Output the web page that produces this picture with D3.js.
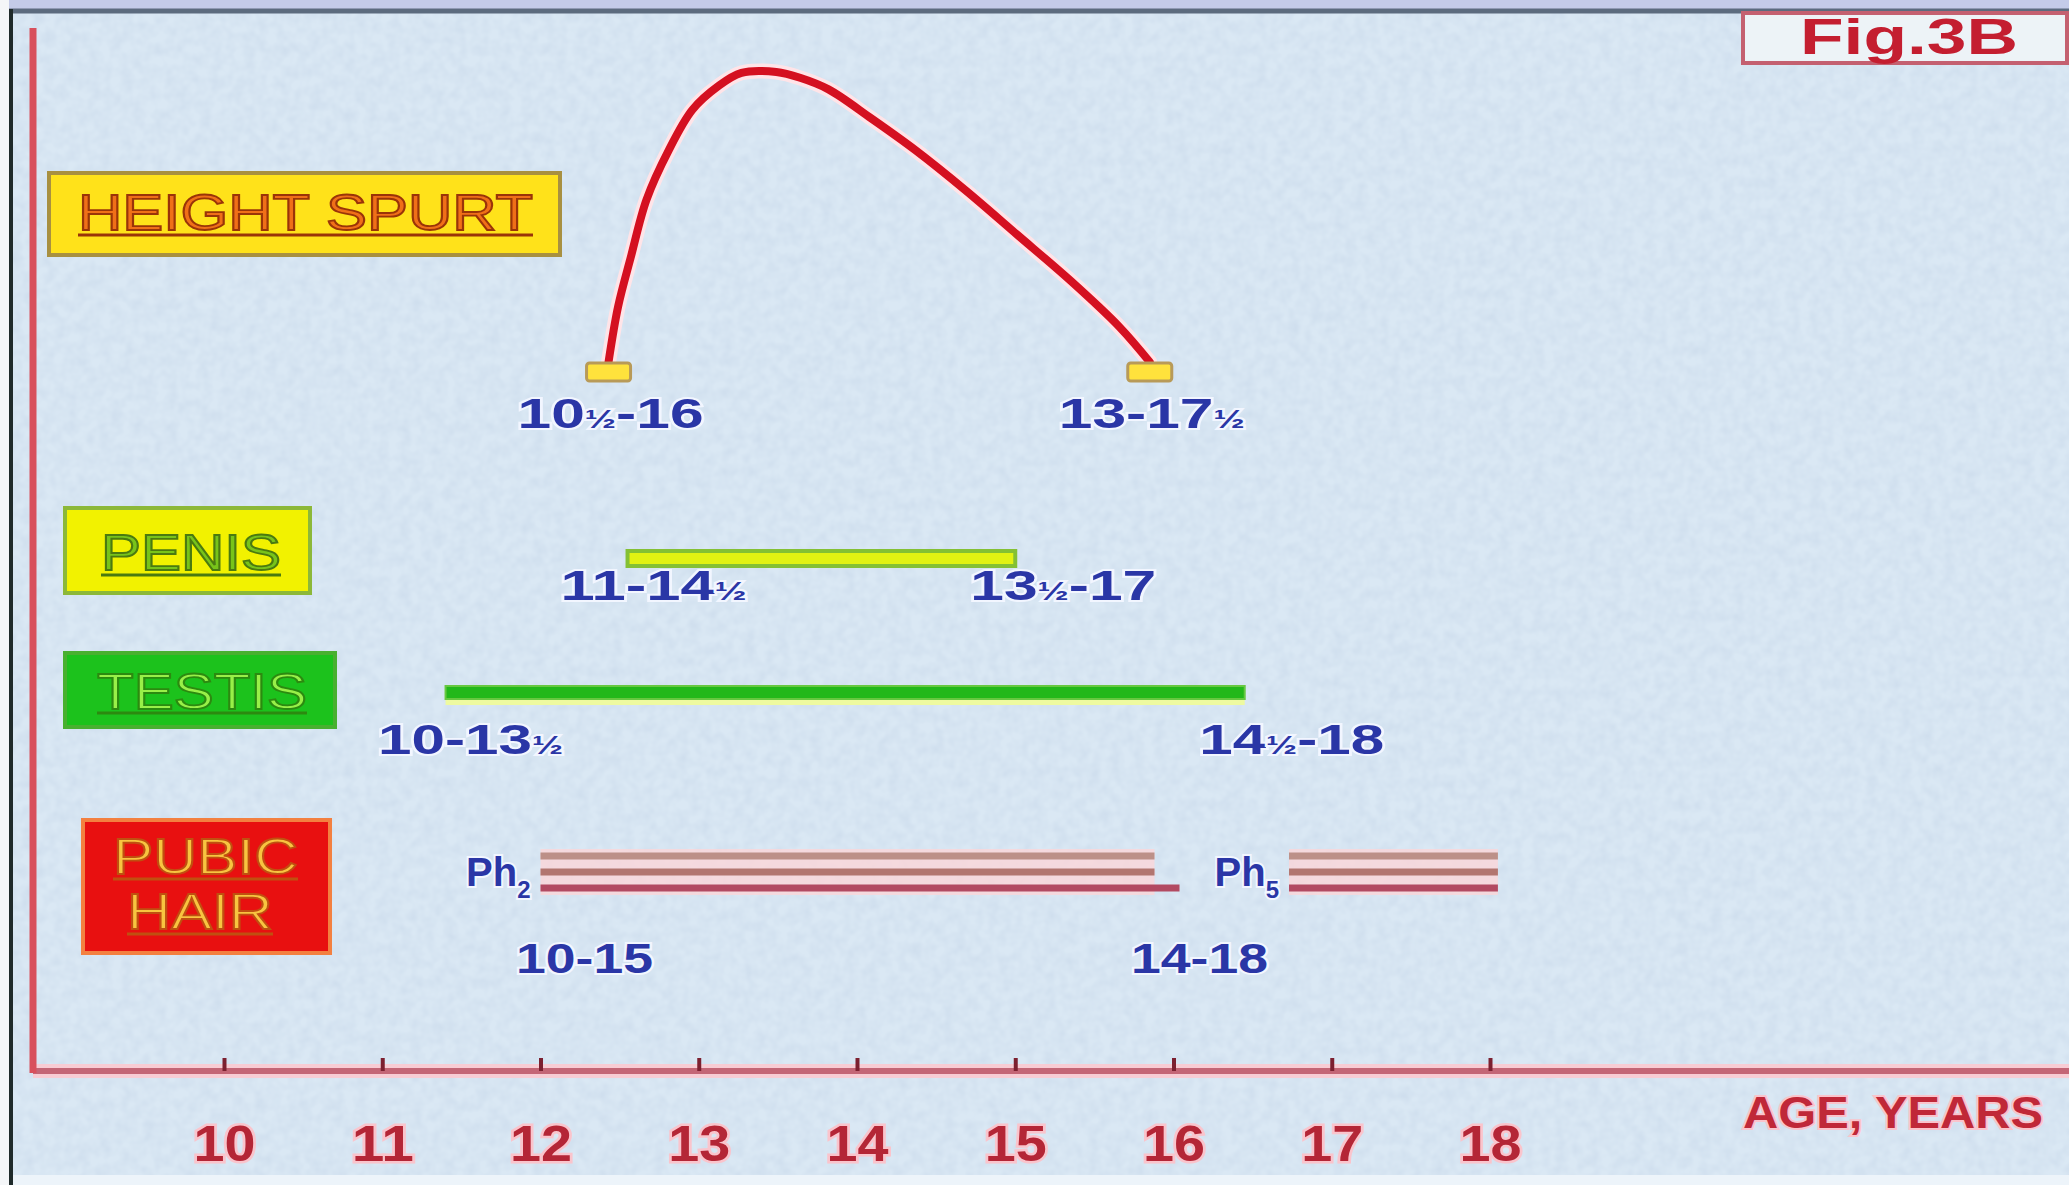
<!DOCTYPE html>
<html>
<head>
<meta charset="utf-8">
<script src="https://cdn.jsdelivr.net/npm/d3@7"></script>
<style>
  body { margin: 0; background: #dbe8f4; }
  text { font-family: "Liberation Sans", Arial, sans-serif; }
</style>
</head>
<body>
<script>
// chart data
const ages = [10, 11, 12, 13, 14, 15, 16, 17, 18];
const stages = ["HEIGHT SPURT", "PENIS", "TESTIS", "PUBIC HAIR"];

// height spurt curve (age, relative velocity)
const spurtAge = [12.43, 12.49, 12.57, 12.67, 12.81, 12.96, 13.12, 13.27, 13.49, 13.64, 13.82, 14.09, 14.37, 14.69, 15.01, 15.35, 15.66, 15.85];
const spurtVelocity = [0, 19, 36, 56, 73, 87, 95, 99.7, 100, 98, 94, 84, 73, 59, 44, 28, 12, 0];
const spurtRange = [12.43, 15.85];
const spurtLabels = ["10½-16", "13-17½"];

const penisRange = [12.55, 15.0];
const penisLabels = ["11-14½", "13½-17"];

const testisRange = [11.4, 16.45];
const testisLabels = ["10-13½", "14½-18"];

const pubicRanges = [[12.0, 15.88], [16.73, 18.05]];
const pubicStages = ["2", "5"];
const pubicLabels = ["10-15", "14-18"];

const W = 2069, H = 1185;

const svg = d3.select("body")
    .append("svg")
    .attr("width", W)
    .attr("height", H);

// background texture
const defs = svg.append("defs");
const grain = defs.append("filter").attr("id", "grain")
    .attr("x", 0).attr("y", 0).attr("width", "100%").attr("height", "100%");
grain.append("feTurbulence")
    .attr("type", "fractalNoise").attr("baseFrequency", 0.09)
    .attr("numOctaves", 2).attr("seed", 4);
grain.append("feColorMatrix").attr("type", "matrix")
    .attr("values", "0 0 0 0 0.55  0 0 0 0 0.66  0 0 0 0 0.80  0.8 0 0 0 -0.24");

svg.append("rect").attr("width", W).attr("height", H).attr("fill", "#dae8f4");
svg.append("rect").attr("width", W).attr("height", H).attr("filter", "url(#grain)");
svg.append("rect").attr("y", H - 10).attr("width", W).attr("height", 10).attr("fill", "#edf4fa");

// scales
const x = d3.scaleLinear().domain([10, 18]).range([224, 1490]);
const yV = d3.scaleLinear().domain([0, 100]).range([362, 72]);

// stage boxes
const boxStyle = {
    "HEIGHT SPURT": { x: 49, y: 173, w: 511, h: 82, fill: "#ffe21a", stroke: "#a89040", color: "#f07018", edge: "#9a3408",
        lines: [{ t: "HEIGHT SPURT", x0: 78, x1: 533, base: 230, u: 235 }] },
    "PENIS": { x: 65, y: 508, w: 245, h: 85, fill: "#f2f200", stroke: "#8cb838", color: "#78c41a", edge: "#4a7a10",
        lines: [{ t: "PENIS", x0: 101, x1: 281, base: 570, u: 575 }] },
    "TESTIS": { x: 65, y: 653, w: 270, h: 74, fill: "#1cc21c", stroke: "#48b030", color: "#98f048", edge: "#2c8a10",
        lines: [{ t: "TESTIS", x0: 97, x1: 307, base: 709, u: 713 }] },
    "PUBIC HAIR": { x: 83, y: 820, w: 247, h: 133, fill: "#e81010", stroke: "#f38040", color: "#f8c440", edge: "#c05010",
        lines: [{ t: "PUBIC", x0: 113, x1: 298, base: 874, u: 879 }, { t: "HAIR", x0: 127, x1: 273, base: 929, u: 934 }] }
};

stages.forEach(s => {
    const b = boxStyle[s];
    const g = svg.append("g");
    g.append("rect")
        .attr("x", b.x).attr("y", b.y).attr("width", b.w).attr("height", b.h)
        .attr("fill", b.fill).attr("stroke", b.stroke).attr("stroke-width", 4);
    b.lines.forEach(l => {
        g.append("text")
            .attr("x", l.x0).attr("y", l.base)
            .attr("textLength", l.x1 - l.x0).attr("lengthAdjust", "spacingAndGlyphs")
            .attr("font-size", 50)
            .attr("fill", b.color).attr("stroke", b.edge).attr("stroke-width", 1.8)
            .text(l.t);
        g.append("line")
            .attr("x1", l.x0).attr("x2", l.x1).attr("y1", l.u).attr("y2", l.u)
            .attr("stroke", b.edge).attr("stroke-width", 3);
    });
});

// labels with a small ½
function rangeText(str, cx, base, len, size) {
    const t = svg.append("text")
        .attr("x", cx).attr("y", base)
        .attr("text-anchor", "middle")
        .attr("textLength", len).attr("lengthAdjust", "spacingAndGlyphs")
        .attr("font-weight", "bold")
        .attr("fill", "#2a36a6")
        .attr("stroke", "#f2f6ff").attr("stroke-width", 4).attr("paint-order", "stroke");
    str.split(/(½)/).forEach(p => {
        if (!p) return;
        t.append("tspan").attr("font-size", p === "½" ? size * 0.62 : size).text(p);
    });
}

// height spurt curve
const line = d3.line()
    .x((d, i) => x(spurtAge[i]))
    .y(d => yV(d))
    .curve(d3.curveCatmullRom);

svg.append("path")
    .attr("d", line(spurtVelocity))
    .attr("fill", "none").attr("stroke", "#ffe4e8").attr("stroke-width", 15)
    .attr("stroke-linecap", "round");
svg.append("path")
    .attr("d", line(spurtVelocity))
    .attr("fill", "none").attr("stroke", "#d41020").attr("stroke-width", 8)
    .attr("stroke-linecap", "round");

svg.selectAll(".spurtEnd")
    .data(spurtRange)
    .join("rect")
    .attr("x", d => x(d) - 22).attr("y", yV(0) + 1)
    .attr("width", 44).attr("height", 18).attr("rx", 3)
    .attr("fill", "#ffe23c").attr("stroke", "#b89a58").attr("stroke-width", 3);

spurtRange.forEach((d, i) => rangeText(spurtLabels[i], x(d) + 2, 428, 186, 42));

// penis bar
svg.append("rect")
    .attr("x", x(penisRange[0])).attr("y", 551)
    .attr("width", x(penisRange[1]) - x(penisRange[0])).attr("height", 15)
    .attr("fill", "#e2f212").attr("stroke", "#84c034").attr("stroke-width", 4);
penisRange.forEach((d, i) => rangeText(penisLabels[i], x(d) + (i ? 48 : 26), 600, 186, 42));

// testis bar
svg.append("rect")
    .attr("x", x(testisRange[0])).attr("y", 697)
    .attr("width", x(testisRange[1]) - x(testisRange[0])).attr("height", 8)
    .attr("fill", "#eefaa0");
svg.append("rect")
    .attr("x", x(testisRange[0])).attr("y", 686)
    .attr("width", x(testisRange[1]) - x(testisRange[0])).attr("height", 13)
    .attr("fill", "#22b81a").attr("stroke", "#66c840").attr("stroke-width", 2);
testisRange.forEach((d, i) => rangeText(testisLabels[i], x(d) + (i ? 47 : 25), 754, 185, 42));

// pubic hair triple lines
const pubicY = [856, 872, 888];
const pubicColors = ["#bc9088", "#b27670", "#b24a62"];
pubicRanges.forEach((r, k) => {
    svg.append("rect")
        .attr("x", x(r[0])).attr("y", 849)
        .attr("width", x(r[1]) - x(r[0])).attr("height", 46)
        .attr("fill", "#fbd6d8").attr("opacity", 0.8);
    pubicY.forEach((py, j) => {
        svg.append("line")
            .attr("x1", x(r[0])).attr("x2", x(r[1]) + (j === 2 && k === 0 ? 25 : 0))
            .attr("y1", py).attr("y2", py)
            .attr("stroke", pubicColors[j]).attr("stroke-width", 7);
    });
    // Ph stage label
    const t = svg.append("text")
        .attr("x", x(r[0]) - 10).attr("y", 886)
        .attr("text-anchor", "end")
        .attr("font-weight", "bold").attr("fill", "#2a36a6")
        .attr("stroke", "#f2f6ff").attr("stroke-width", 4).attr("paint-order", "stroke");
    t.append("tspan").attr("font-size", 40).text("Ph");
    t.append("tspan").attr("font-size", 24).attr("dy", 12).text(pubicStages[k]);
});
rangeText(pubicLabels[0], x(pubicRanges[0][0]) + 44, 973, 137, 42);
rangeText(pubicLabels[1], x(pubicRanges[0][1]) + 45, 973, 137, 42);

// X axis
svg.append("line")
    .attr("x1", 33).attr("x2", W).attr("y1", 1071).attr("y2", 1071)
    .attr("stroke", "#f8ccd4").attr("stroke-width", 14);
svg.append("line")
    .attr("x1", 33).attr("x2", W).attr("y1", 1071).attr("y2", 1071)
    .attr("stroke", "#c46676").attr("stroke-width", 6);

const xAxis = svg.append("g")
    .attr("transform", "translate(0,1071)")
    .call(d3.axisBottom(x).tickValues(ages).tickSizeInner(-13).tickSizeOuter(0).tickPadding(54));
xAxis.select(".domain").remove();
xAxis.selectAll(".tick line").attr("stroke", "#7c2030").attr("stroke-width", 4);
xAxis.selectAll(".tick text")
    .attr("font-size", 50).attr("font-weight", "bold")
    .attr("font-family", "Liberation Sans, Arial, sans-serif")
    .attr("fill", "#b42636")
    .attr("stroke", "#fac4cc").attr("stroke-width", 5).attr("paint-order", "stroke")
    .attr("textLength", 62).attr("lengthAdjust", "spacingAndGlyphs");

svg.append("text")
    .attr("x", 1743).attr("y", 1128)
    .attr("textLength", 300).attr("lengthAdjust", "spacingAndGlyphs")
    .attr("font-size", 44).attr("font-weight", "bold")
    .attr("fill", "#c02838")
    .attr("stroke", "#fac4cc").attr("stroke-width", 4).attr("paint-order", "stroke")
    .text("AGE, YEARS");

// frame
svg.append("rect").attr("width", W).attr("height", 9).attr("fill", "#c4cbe8");
svg.append("line")
    .attr("x1", 0).attr("x2", W).attr("y1", 11).attr("y2", 11)
    .attr("stroke", "#5c6b7e").attr("stroke-width", 5);

// figure tag
svg.append("rect")
    .attr("x", 1743).attr("y", 13).attr("width", 324).attr("height", 50)
    .attr("fill", "#edf3f7").attr("stroke", "#c46070").attr("stroke-width", 4);
svg.append("text")
    .attr("x", 1800).attr("y", 54)
    .attr("textLength", 218).attr("lengthAdjust", "spacingAndGlyphs")
    .attr("font-size", 50).attr("font-weight", "bold")
    .attr("fill", "#c41e30")
    .text("Fig.3B");

svg.append("rect").attr("width", 9).attr("height", H).attr("fill", "#f4f6f8");
svg.append("line")
    .attr("x1", 11).attr("x2", 11).attr("y1", 9).attr("y2", H)
    .attr("stroke", "#1f2a2a").attr("stroke-width", 4);
svg.append("line")
    .attr("x1", 33).attr("x2", 33).attr("y1", 28).attr("y2", 1073)
    .attr("stroke", "#d8505c").attr("stroke-width", 7);
</script>
</body>
</html>
